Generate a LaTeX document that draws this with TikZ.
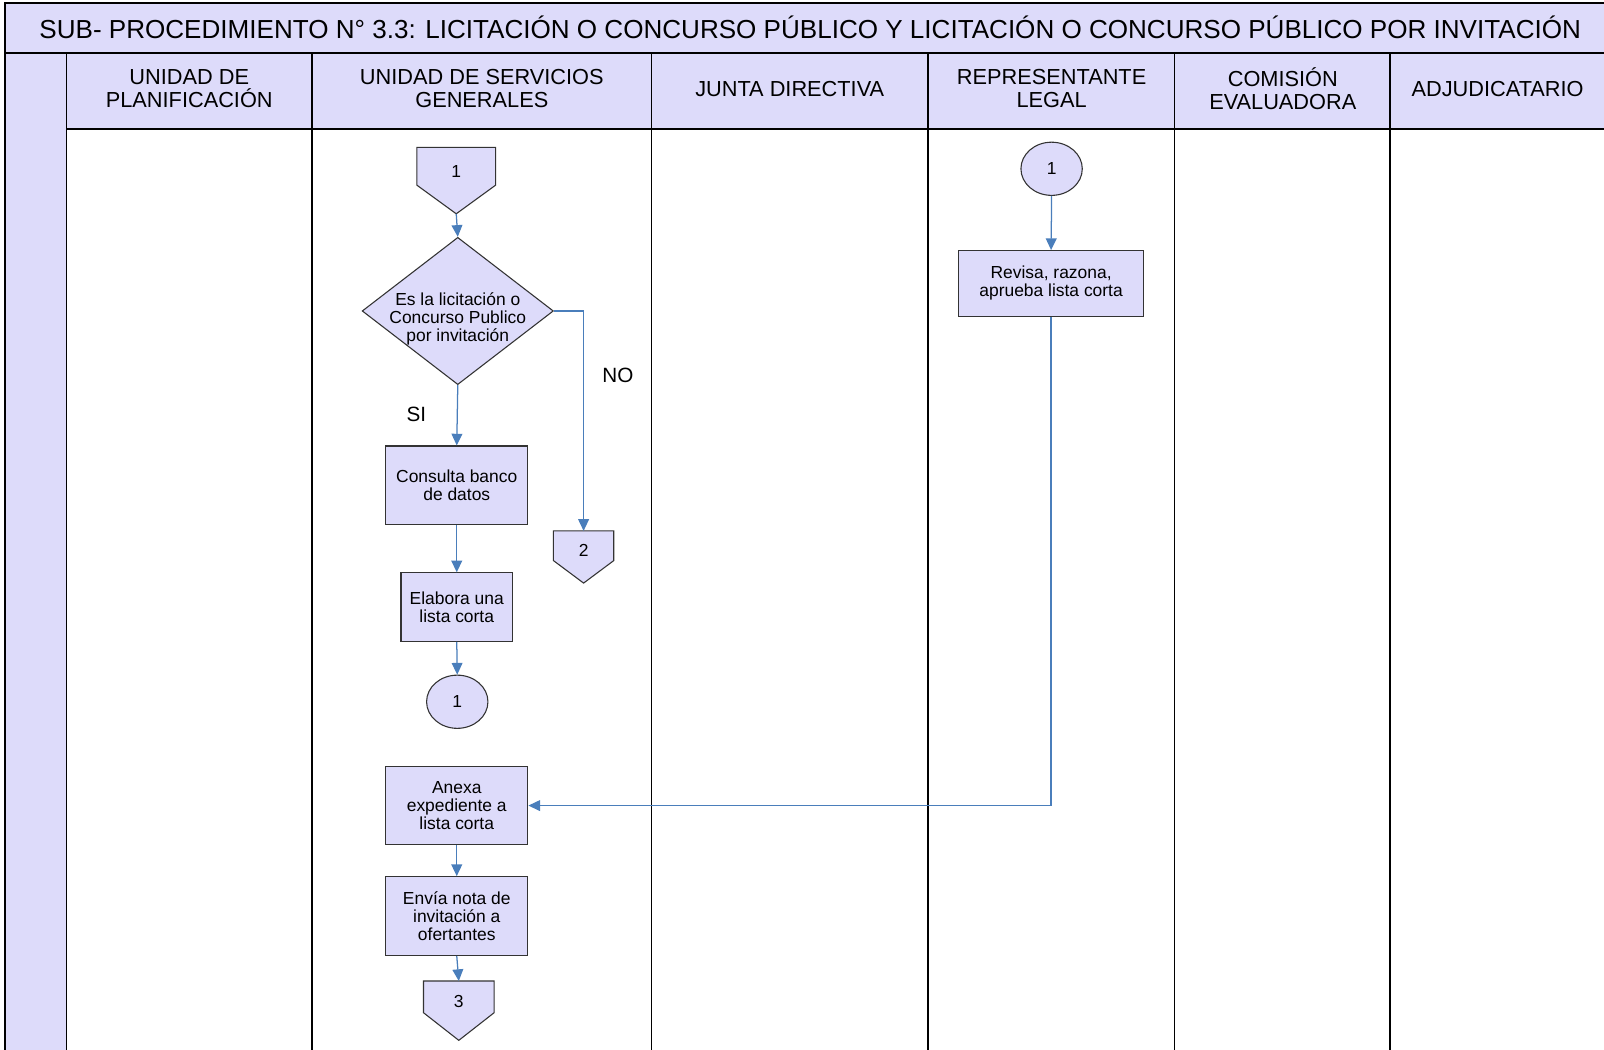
\documentclass[tikz,border=0pt]{standalone}
\usepackage{fontspec}
\setmainfont{Liberation Sans}
\usetikzlibrary{shapes.geometric,arrows.meta}
\definecolor{lav}{RGB}{221,219,250}
\definecolor{linkblue}{RGB}{74,126,187}
\tikzset{
  lane/.style={draw=black,line width=0.9pt},
  title/.style={font=\fontsize{14.5}{16}\selectfont},
  head/.style={align=center,font=\fontsize{12.1}{12.8}\selectfont},
  boxfont/.style={font=\fontsize{9.7}{10}\selectfont},
  proc/.style={draw=black!80,fill=lav,line width=0.6pt,align=center,inner sep=1pt,boxfont},
  decision/.style={proc,shape=diamond,minimum width=3.74cm,minimum height=2.88cm,inner sep=0pt},
  onpage/.style={proc,shape=ellipse,minimum width=1.2cm,minimum height=1.04cm,inner sep=0pt},
  tag/.style={font=\fontsize{11.5}{13}\selectfont},
  link/.style={draw=linkblue,line width=0.7pt,-{Triangle[length=6.5pt,width=6pt]}}
}
\newcommand{\offpage}[7]{%
  \draw[proc] (#2-#6,#3) -- (#2+#6,#3) -- (#2+#6,#4) -- (#2,#5) -- (#2-#6,#4) -- cycle;
  \node[boxfont] (#1) at (#2,{(#3+#4)/2+5}) {#7};
  \coordinate (#1-top) at (#2,#3);
  \coordinate (#1-tip) at (#2,#5);}
\begin{document}
\begin{tikzpicture}[x=0.02cm,y=-0.02cm]
  \useasboundingbox (0,0) rectangle (1568,1026);
  \fill[lav] (5,3) rectangle (1568,126);
  \fill[lav] (5,126) rectangle (65,1026);
  \draw[lane] (1568,3) -- (5,3) -- (5,1026);
  \draw[lane] (5,52) -- (1568,52);
  \draw[lane] (65,126) -- (1568,126);
  \foreach \x in {65,305,637,907,1148,1359}
    \draw[lane] (\x,52) -- (\x,1026);
  \node[title] (title) at (792,27)
    {SUB- PROCEDIMIENTO N° 3.3: LICITACIÓN O CONCURSO PÚBLICO Y LICITACIÓN O CONCURSO PÚBLICO POR INVITACIÓN};
  \node[head] (hPlan) at (185,87) {UNIDAD DE\\PLANIFICACIÓN};
  \node[head] (hServ) at (471,87) {UNIDAD DE SERVICIOS\\GENERALES};
  \node[head] (hJunta) at (772,87) {JUNTA DIRECTIVA};
  \node[head] (hRep) at (1028,87) {REPRESENTANTE\\LEGAL};
  \node[head] (hCom) at (1254,87) {COMISIÓN\\EVALUADORA};
  \node[head] (hAdj) at (1464,87) {ADJUDICATARIO};

  \offpage{c1}{446}{144}{181}{209}{38.5}{1}
  \node[decision,label={[align=center,boxfont,yshift=-0.16cm]center:Es la licitación o\\Concurso Publico\\por invitación}]
    (tipo) at (447.5,304) {};
  \node[proc,minimum width=2.78cm,minimum height=1.54cm] (consulta) at (446.5,474.5) {Consulta banco\\de datos};
  \node[proc,minimum width=2.18cm,minimum height=1.34cm] (elabora) at (446.5,593.5) {Elabora una\\lista corta};
  \node[onpage] (p1) at (447,686) {1};
  \node[proc,minimum width=2.78cm,minimum height=1.54cm] (anexa) at (446.5,787.5) {Anexa\\expediente a\\lista corta};
  \node[proc,minimum width=2.78cm,minimum height=1.54cm] (envia) at (446.5,895.5) {Envía nota de\\invitación a\\ofertantes};
  \offpage{c3}{448.5}{959}{990}{1017}{34.5}{3}
  \offpage{c2}{570.5}{519}{548}{570}{29.5}{2}
  \node[onpage] (r1) at (1028,165) {1};
  \node[proc,minimum width=3.62cm,minimum height=1.28cm] (revisa) at (1027.5,277) {Revisa, razona,\\aprueba lista corta};
  \node[tag] (lSi) at (407,405) {SI};
  \node[tag] (lNo) at (604,367) {NO};

  \begin{scope}[link]
    \draw (c1-tip) -- (tipo.north);
    \draw (tipo.south) -- (consulta.north);
    \draw (tipo.east) -| (c2-top);
    \draw (consulta.south) -- (elabora.north);
    \draw (elabora.south) -- (p1.north);
    \draw (r1.south) -- (revisa.north);
    \draw (revisa.south) |- (anexa.east);
    \draw (anexa.south) -- (envia.north);
    \draw (envia.south) -- (c3-top);
  \end{scope}
\end{tikzpicture}
\end{document}
